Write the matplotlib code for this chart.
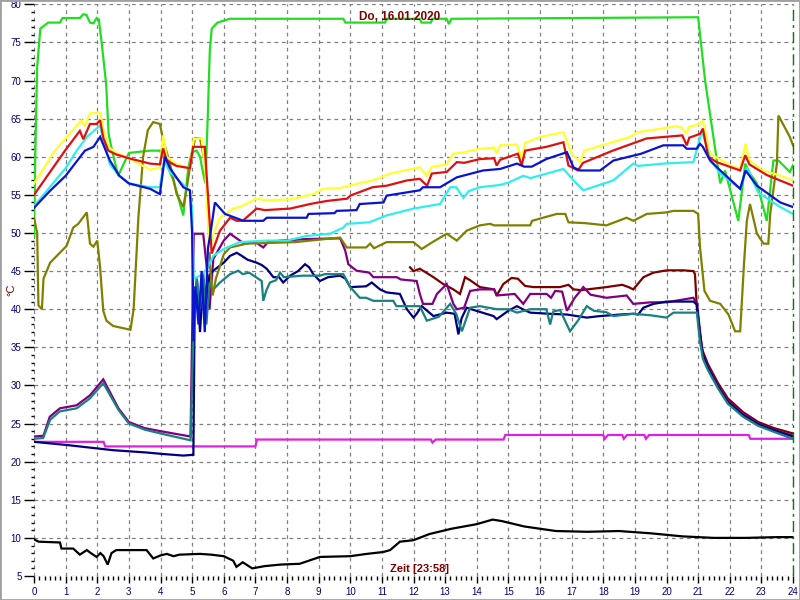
import numpy as np
import matplotlib
matplotlib.use("Agg")
import matplotlib.pyplot as plt
from matplotlib.ticker import MultipleLocator
from matplotlib.patches import Rectangle

plt.rcParams['font.family'] = ['Liberation Sans', 'DejaVu Sans']

# ---- data: time in hours, temperature in degC ----
t_green = [0, 0.04, 0.1, 0.2, 0.45, 0.82, 0.9, 1.45, 1.56, 1.66, 1.77, 1.88, 1.98, 2.05, 2.13, 2.28, 2.36,
           2.47, 2.66, 3.0, 3.67, 3.98, 4.09, 4.41, 4.72, 4.88, 4.99, 5.14, 5.25, 5.35, 5.42, 5.5, 5.56,
           5.62, 5.8, 6.2, 9.78, 9.85, 11.1, 11.15, 12.2, 12.25, 12.55, 12.6, 13.05, 13.12, 13.2, 21.0,
           21.22, 21.7, 21.85, 22.27, 22.49, 22.64, 22.86, 23.17, 23.38, 23.54, 23.9, 24.0]
v_green = [49.5, 60, 71.8, 76.8, 77.6, 77.6, 78.2, 78.2, 78.7, 78.6, 77.6, 77.5, 78.2, 78.0, 75.3, 69.6, 63,
           60.8, 57.5, 60.5, 60.8, 60.8, 60.0, 56.9, 52.3, 58.6, 60.6, 60.8, 60.0, 57.8, 56.5, 66, 74,
           76.8, 77.6, 78.1, 78.1, 77.6, 77.6, 78.1, 78.1, 77.6, 77.6, 78.1, 78.1, 77.4, 78.1, 78.3,
           70, 56.5, 58.2, 51.6, 59.1, 57.8, 56.5, 51.6, 59.5, 59.5, 58.0, 58.9]

t_yellow = [0, 0.66, 1.5, 1.6, 1.77, 2.09, 2.2, 2.35, 2.6, 3.0, 3.67, 3.98, 4.08, 4.2, 4.5, 4.93, 5.05, 5.3,
            5.42, 5.55, 5.67, 5.88, 6.3, 6.5, 7.04, 7.3, 8.1, 8.83, 9.15, 9.68, 10.2, 10.73, 11.26, 12.2,
            12.42, 12.58, 13.05, 13.25, 13.6, 14.1, 14.55, 14.63, 14.74, 15.27, 15.42, 15.53, 16.0, 16.74,
            16.8, 17.0, 17.27, 17.4, 17.8, 18.85, 19.06, 20.3, 20.5, 20.64, 20.7, 21.06, 21.15, 21.38,
            22.0, 22.33, 22.5, 22.62, 23.0, 23.6, 24.0]
v_yellow = [56.5, 60.8, 64.8, 64.0, 65.7, 65.8, 63.5, 61.3, 60.5, 59.8, 58.3, 58.6, 62.8, 60, 59, 58.5, 62.3,
            62.4, 58, 47.5, 49.9, 52, 53.2, 53.4, 54.5, 54.3, 54.4, 55.1, 55.8, 55.9, 56.45, 56.9, 57.8,
            58.6, 57.5, 58.7, 59.0, 60.4, 60.6, 61.05, 61.2, 60.4, 61.5, 61.6, 59.7, 61.8, 62.6, 63.2,
            62.6, 60.4, 59.3, 60.8, 61.3, 62.6, 63.2, 64.0, 63.8, 63.0, 63.9, 64.3, 64.8, 60.4,
            58.9, 58.4, 61.7, 59.5, 58.3, 57.5, 56.9]

t_red = [0, 0.98, 1.45, 1.56, 1.77, 1.98, 2.09, 2.19, 2.35, 2.6, 3.0, 3.67, 3.98, 4.08, 4.2, 4.5, 4.93, 5.03,
         5.4, 5.5, 5.62, 5.88, 6.2, 6.41, 6.6, 7.04, 7.3, 8.1, 8.73, 9.26, 9.9, 10.0, 10.7, 11.15, 11.8,
         12.2, 12.43, 12.58, 13.05, 13.37, 13.6, 14.1, 14.55, 14.63, 14.74, 15.3, 15.42, 15.53, 16.2,
         16.74, 16.9, 17.2, 17.36, 18.3, 19.37, 20.5, 20.64, 20.72, 21.06, 21.15, 21.32, 21.58, 22.33,
         22.49, 22.62, 23.17, 24.0]
v_red = [55.0, 60.8, 63.4, 62.3, 64.3, 64.3, 64.8, 62.5, 60.8, 60.3, 59.8, 59.1, 59.0, 61.1, 59.5, 58.8, 58.5,
         61.3, 61.3, 55, 47.3, 50.3, 52, 51.6, 51.6, 53.2, 53.0, 53.2, 53.8, 54.2, 54.5, 54.9, 56, 56.2,
         56.9, 57.1, 56.2, 57.8, 58.0, 59.3, 59.2, 59.7, 59.8, 58.85, 59.6, 60.4, 58.85, 60.8, 61.3,
         61.9, 58.85, 58.2, 59.2, 60.8, 62.4, 62.8, 61.5, 62.5, 63.0, 63.7, 60.0, 59.3, 58.2,
         60.2, 59.0, 57.6, 56.2]

t_blue = [0, 0.5, 1.0, 1.61, 1.88, 2.09, 2.2, 2.4, 2.7, 3.0, 3.67, 3.98, 4.14, 4.3, 4.72, 4.93, 5.0, 5.04,
          5.1, 5.2, 5.3, 5.4, 5.5, 5.6, 5.72, 6.04, 6.62, 7.25, 7.36, 8.62, 8.68, 9.5, 9.57, 10.2, 10.3,
          11.05, 11.15, 12.2, 12.3, 12.84, 13.37, 14.2, 14.74, 15.27, 15.5, 15.74, 16.2, 16.85, 17.06,
          17.27, 17.9, 18.32, 19.2, 19.9, 20.53, 20.64, 20.95, 21.06, 21.15, 21.38, 21.7, 22.33, 22.5,
          22.86, 23.6, 24.0]
v_blue = [53.3, 55.5, 57.5, 60.8, 61.3, 62.6, 61.5, 59.5, 57.5, 56.5, 55.8, 55.1, 60.0, 58.5, 56.0, 55.6, 50,
          35.8, 43, 38, 45, 37, 48, 50.5, 54.0, 52.5, 51.6, 51.6, 52.0, 52.0, 52.5, 52.6, 52.9, 53.0, 53.8,
          54.0, 54.9, 55.6, 56.0, 56.0, 57.3, 58.2, 58.4, 59.1, 58.7, 58.7, 59.7, 60.6, 58.6,
          58.2, 58.2, 59.5, 60.4, 61.5, 61.5, 61.05, 61.05, 61.7, 61.3, 59.5, 58.2, 55.8, 58.2,
          56.2, 54.0, 53.4]

t_cyan = [0, 0.5, 1.0, 1.35, 1.67, 2.09, 2.2, 2.4, 2.7, 3.0, 3.67, 3.98, 4.12, 4.3, 4.93, 5.0, 5.05, 5.3,
          5.5, 5.67, 6.0, 6.5, 7.36, 8.0, 8.62, 9.36, 9.78, 9.89, 10.6, 11.15, 12.0, 12.84, 13.16, 13.35,
          13.58, 13.75, 14.1, 14.74, 15.0, 15.47, 15.7, 16.74, 17.06, 17.37, 18.32, 18.95, 19.1, 19.9,
          20.85, 21.12, 21.4, 21.7, 22.33, 22.54, 22.9, 23.6, 24.0]
v_cyan = [53.5, 56, 58.5, 60.8, 62.6, 64.1, 62, 59, 57.5, 56.5, 56, 56, 59.6, 58, 55.5, 53, 44, 44.5,
          45.5, 47, 47.9, 48.8, 49.0, 49.0, 49.6, 49.9, 50.7, 51.2, 51.4, 52.3, 53.2, 53.8, 56.0, 56.0,
          54.6, 55.5, 56.0, 56.3, 56.6, 57.5, 57.2, 58.4, 56.9, 55.6, 56.9, 59.1, 58.8, 59.1,
          59.3, 63.4, 59.5, 57.8, 55.8, 58.6, 55.3, 53.4, 52.5]

t_olive = [0, 0.1, 0.14, 0.25, 0.3, 0.51, 1.03, 1.24, 1.4, 1.67, 1.77, 1.88, 2.0, 2.09, 2.19, 2.29, 2.5,
           3.05, 3.15, 3.3, 3.45, 3.6, 3.77, 3.98, 4.09, 4.3, 4.51, 4.72, 4.83, 4.93, 5.09, 5.25, 5.41,
           5.51, 5.57, 5.65, 5.75, 6.0, 6.2, 6.73, 8.25, 9.68, 9.89, 10.5, 10.63, 10.75, 11.15, 12.0,
           12.26, 12.6, 13.05, 13.37, 13.68, 14.1, 14.42, 14.55, 15.69, 15.75, 16.53, 16.8, 16.9, 17.4,
           18.1, 18.74, 18.95, 19.38, 20.0, 20.22, 20.85, 21.0, 21.06, 21.2, 21.38, 21.7, 21.96, 22.17,
           22.33, 22.45, 22.54, 22.64, 22.86, 23.07, 23.22, 23.28, 23.49, 23.54, 23.9, 24.0]
v_olive = [52.0, 50.0, 40.5, 40.0, 44.0, 46.1, 48.3, 50.7, 51.2, 52.7, 48.6, 48.2, 49.0, 45.5, 39.8, 38.5, 37.8,
           37.3, 40, 52, 60, 63.5, 64.55, 64.3, 62.1, 59.1, 55.1, 53.4, 55.9, 58.6, 62.4, 62.4, 59.1,
           52.5, 45.5, 41.8, 44, 47.2, 48.1, 48.6, 48.8, 49.4, 48.1, 48.1, 48.6, 48.0, 48.8, 48.8,
           47.9, 48.8, 49.9, 49.0, 50.3, 51.0, 51.2, 51.0, 51.0, 51.6, 52.5, 52.5, 51.4, 51.3,
           51.0, 52.0, 51.6, 52.5, 52.7, 52.9, 52.9, 52.5, 48.1, 42.4, 41.1, 40.7, 39.3, 37.1,
           37.1, 45.9, 51.6, 53.8, 49.9, 48.6, 48.6, 52.5, 59.1, 65.4, 62.6, 61.5]

t_maroon = [11.89, 12.0, 12.2, 12.4, 12.63, 12.94, 13.26, 13.47, 13.63, 13.79, 14.1, 14.55, 14.63, 14.84,
            15.1, 15.3, 15.53, 15.8, 16.63, 16.9, 17.06, 17.3, 18.1, 18.6, 18.8, 18.95, 19.27, 19.59,
            20.01, 20.54, 20.85, 20.9, 20.96, 21.1, 21.31, 21.63, 21.94, 22.42, 22.9, 23.4, 24.0]
v_maroon = [45.5, 45.0, 45.3, 44.8, 44.2, 43.3, 42.6, 42.0, 44.2, 43.8, 42.9, 42.6, 41.8, 43.3,
            44.1, 44.0, 43.05, 42.9, 42.9, 43.2, 42.6, 42.5, 42.9, 43.2, 42.9, 42.6, 44.2, 44.8,
            45.1, 45.1, 45.0, 44.6, 40.2, 35.0, 32.8, 30.3, 28.3, 26.5, 25.2, 24.4, 23.7]

t_purple = [0, 0.3, 0.5, 0.82, 1.35, 1.77, 2.19, 2.67, 3.0, 3.5, 4.0, 4.95, 5.05, 5.35, 5.45, 5.55, 5.67,
            6.0, 6.2, 6.51, 6.65, 7.0, 7.25, 7.4, 7.78, 8.62, 9.68, 9.84, 9.94, 10.2, 10.6, 10.73, 11.47,
            11.6, 12.1, 12.2, 12.3, 12.6, 12.74, 13.05, 13.26, 13.37, 13.6, 13.79, 14.1, 14.55, 14.63,
            15.2, 15.47, 15.69, 16.21, 16.35, 16.48, 16.7, 16.85, 17.1, 17.37, 17.6, 18.1, 18.74, 18.95,
            19.5, 20.0, 20.85, 20.96, 21.05, 21.15, 21.31, 21.63, 21.94, 22.42, 22.9, 23.4, 24.0]
v_purple = [23.3, 23.4, 25.9, 27.0, 27.4, 28.7, 30.8, 27.0, 25.2, 24.4, 24.0, 23.3, 49.9, 49.9, 46, 40, 46.6,
            49.0, 49.9, 49.0, 48.6, 48.8, 48.1, 48.8, 49.0, 49.2, 49.3, 47.7, 45.9, 45.05, 44.8, 44.2, 44.2,
            43.9, 43.7, 42.0, 40.7, 40.7, 42.0, 43.3, 40.7, 40.0, 40.2, 42.4, 42.6, 42.6, 41.8,
            42.0, 40.7, 42.0, 42.0, 41.5, 42.4, 42.3, 39.8, 41.5, 42.9, 41.9, 41.5, 41.8, 40.7,
            40.9, 40.9, 41.5, 40.8, 37.5, 34.0, 32.5, 30.0, 28.0, 26.3, 25.0, 24.2, 23.4]

t_navy = [0, 1.0, 2.51, 3.56, 4.09, 4.72, 5.04, 5.08, 5.15, 5.25, 5.35, 5.45, 5.55, 5.67, 6.0, 6.2, 6.41,
          6.57, 6.75, 7.04, 7.2, 7.36, 7.57, 7.75, 7.88, 8.1, 8.35, 8.57, 8.7, 8.83, 9.04, 9.3, 9.68, 9.85,
          10.0, 10.5, 10.68, 10.94, 11.15, 11.57, 11.79, 12.0, 12.1, 12.26, 12.63, 13.05, 13.3, 13.42,
          13.52, 13.68, 13.9, 14.53, 14.63, 14.8, 15.0, 15.27, 15.5, 15.69, 16.3, 16.85, 17.48, 17.9,
          18.53, 18.95, 19.1, 19.27, 19.59, 20.0, 20.85, 20.96, 21.05, 21.15, 21.31, 21.63, 21.94, 22.42,
          22.9, 23.4, 24.0]
v_navy = [22.6, 22.2, 21.5, 21.2, 21.0, 20.8, 20.9, 40, 44, 37, 44, 41, 44.5, 45.05, 46.1, 47.0, 47.4,
          47.0, 46.5, 46.1, 45.8, 45.3, 44.2, 44.2, 43.5, 44.4, 45.0, 45.9, 45.5, 44.6, 43.7, 44.2, 44.4, 44.0,
          42.9, 43.0, 43.5, 42.6, 42.2, 42.0, 40.0, 38.9, 39.4, 40.4, 39.1, 39.55, 39.4, 36.7,
          38.8, 40.2, 39.9, 39.1, 38.7, 39.2, 39.8, 40.4, 39.9, 39.55, 39.4, 39.3, 38.9, 39.1,
          39.3, 39.4, 39.3, 40.2, 40.7, 41.0, 41.0, 40.6, 37.0, 34.0, 32.3, 29.8, 27.8, 26.1,
          24.9, 24.1, 23.3]

t_teal = [0, 0.29, 0.51, 0.82, 1.35, 1.77, 2.19, 2.67, 3.0, 3.5, 4.0, 4.95, 5.05, 5.15, 5.25, 5.35, 5.45,
          5.55, 5.67, 5.88, 6.2, 6.46, 6.6, 6.8, 7.2, 7.25, 7.35, 7.46, 7.65, 7.78, 7.9, 8.5, 9.04, 9.2,
          9.78, 10.0, 10.3, 10.5, 10.73, 11.36, 11.46, 12.2, 12.42, 12.8, 13.16, 13.35, 13.53, 13.79,
          14.1, 14.63, 15.0, 15.27, 15.69, 16.2, 16.32, 16.42, 16.63, 16.95, 17.2, 17.48, 17.7, 18.1,
          18.32, 18.95, 19.5, 20.0, 20.22, 20.96, 21.05, 21.15, 21.31, 21.63, 21.94, 22.42, 22.9, 23.4, 24.0]
v_teal = [23.0, 23.1, 25.5, 26.6, 27.0, 28.3, 30.3, 26.8, 25.0, 24.2, 23.7, 22.8, 38, 44, 40, 45, 38,
          43.5, 42.6, 43.5, 44.6, 45.05, 44.6, 44.8, 43.7, 41.1, 42.5, 43.5, 43.8, 44.8, 44.2, 44.4, 44.4, 44.6,
          44.6, 42.9, 41.5, 41.5, 41.1, 41.1, 40.4, 40.4, 38.5, 39.0, 40.7, 39.4, 37.1, 40.2,
          40.4, 40.0, 40.0, 39.55, 40.0, 40.0, 38.0, 39.7, 39.9, 37.1, 38.5, 40.4, 39.8, 39.6,
          39.1, 39.4, 39.2, 38.9, 39.55, 39.55, 36.0, 33.5, 32.0, 29.6, 27.6, 25.9, 24.7, 23.9, 23.0]

t_magenta = [0, 2.2, 2.25, 7.0, 7.05, 12.55, 12.6, 12.7, 14.85, 14.9, 18.0, 18.05, 18.15, 18.6, 18.65,
             18.75, 19.3, 19.35, 19.45, 22.6, 22.65, 24.0]
v_magenta = [22.6, 22.6, 22.0, 22.0, 22.9, 22.9, 22.5, 22.9, 22.9, 23.5, 23.5, 23.0, 23.5, 23.5, 23.0,
             23.5, 23.5, 23.0, 23.5, 23.5, 23.0, 23.0]

t_black = [0, 0.15, 0.82, 0.87, 1.24, 1.45, 1.67, 1.8, 1.98, 2.1, 2.2, 2.33, 2.45, 2.6, 3.56, 3.77, 4.0,
           4.2, 4.41, 4.6, 5.25, 5.6, 6.0, 6.3, 6.4, 6.6, 6.9, 7.3, 7.8, 8.4, 9.04, 10.0, 10.52, 11.05,
           11.26, 11.57, 12.0, 12.5, 13.2, 14.0, 14.5, 14.8, 15.5, 16.5, 17.5, 18.5, 19.5, 20.5, 21.5,
           22.5, 23.5, 24.0]
v_black = [9.8, 9.5, 9.4, 8.6, 8.6, 7.8, 8.4, 8.0, 7.5, 8.0, 7.6, 6.5, 8.0, 8.4, 8.4, 7.3, 7.7,
           7.9, 7.6, 7.8, 7.9, 7.8, 7.6, 7.0, 6.2, 6.8, 6.0, 6.3, 6.5, 6.6, 7.5, 7.6, 7.9, 8.15,
           8.4, 9.5, 9.7, 10.5, 11.2, 11.8, 12.4, 12.2, 11.5, 10.9, 10.8, 10.9, 10.6, 10.2, 10.0,
           10.0, 10.1, 10.1]

series = [
    (t_magenta, v_magenta, '#e020e0'),
    (t_black, v_black, '#000000'),
    (t_maroon, v_maroon, '#7a0000'),
    (t_purple, v_purple, '#800080'),
    (t_navy, v_navy, '#000080'),
    (t_teal, v_teal, '#1a8080'),
    (t_green, v_green, '#22dd22'),
    (t_olive, v_olive, '#808000'),
    (t_yellow, v_yellow, '#ffff30'),
    (t_cyan, v_cyan, '#30eeee'),
    (t_red, v_red, '#e01010'),
    (t_blue, v_blue, '#0a14d0'),
]

fig = plt.figure(figsize=(8, 6), dpi=100)
ax = fig.add_axes([34 / 800, 1 - 576 / 600, (793 - 34) / 800, (576 - 4.3) / 600])

for t, v, c in series:
    ax.plot(t, v, color=c, lw=1.6, solid_joinstyle='miter')

ax.set_xlim(0, 24)
ax.set_ylim(5, 80)
ax.xaxis.set_major_locator(MultipleLocator(1))
ax.xaxis.set_minor_locator(MultipleLocator(1 / 6))
ax.yaxis.set_major_locator(MultipleLocator(5))
ax.yaxis.set_minor_locator(MultipleLocator(1))
ax.grid(True, which='major', color='#808080', ls=(0, (3, 3)), lw=0.9)
for s in ax.spines.values():
    s.set_visible(False)
ax.tick_params(axis='x', which='major', length=5, width=1, color='black', labelsize=7,
               labelcolor='#000080', pad=3)
ax.tick_params(axis='x', which='minor', length=3, width=1, color='black')
ax.tick_params(axis='y', which='major', length=7, width=1, color='black', labelsize=7,
               labelcolor='#000080', pad=2)
ax.tick_params(axis='y', which='minor', length=2.5, width=1, color='black')
ax.axvline(24, color='#008000', lw=1, ls=(0, (8, 3, 2, 3)), clip_on=False)

fig.text(0.5, 1 - 17.5 / 600, 'Do, 16.01.2020', color='#800000', fontsize=8.5, fontweight='bold',
         ha='center', va='center')
fig.text(419 / 800, 1 - 569 / 600, 'Zeit [23:58]', color='#800000', fontsize=8, fontweight='bold',
         ha='center', va='center')
fig.text(11 / 800, 1 - 290 / 600, '°C', color='#800000', fontsize=8, rotation=90,
         ha='center', va='center')

fig.patches.append(Rectangle((0, 0), 1, 1, transform=fig.transFigure, fill=False,
                             edgecolor='#a0a0a0', lw=2))

fig.savefig('out.png', dpi=100)
